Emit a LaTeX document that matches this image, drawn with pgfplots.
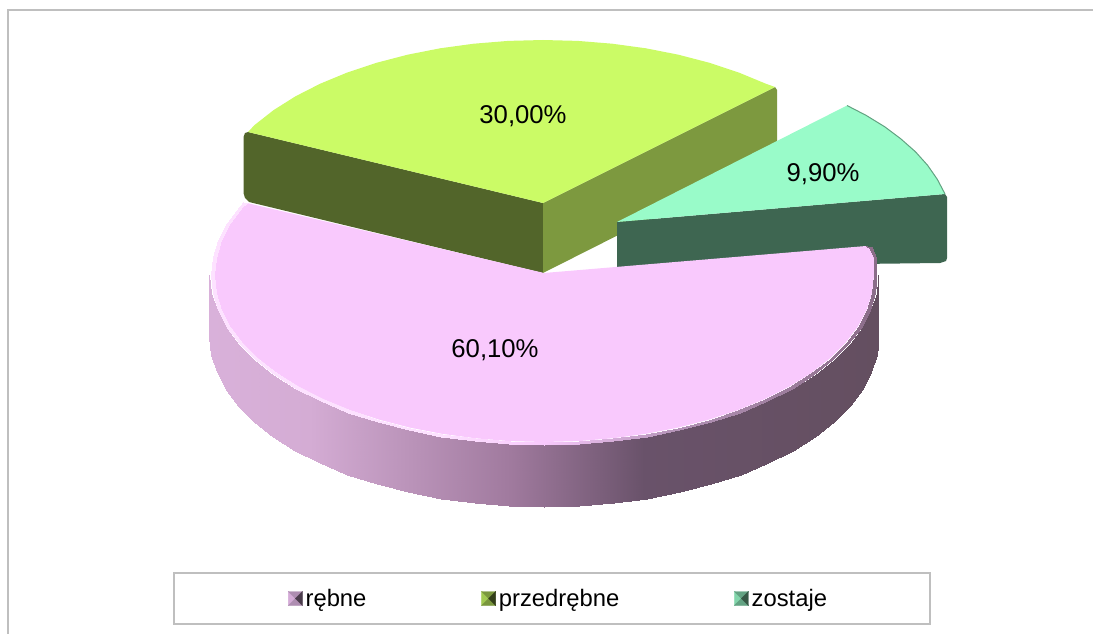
\documentclass[border=0pt]{standalone}
\usepackage{pgfplots}
\pgfplotsset{compat=1.18}
\usepackage{fontspec}
\setmainfont{Liberation Sans}
\definecolor{pkTop}{HTML}{F9C9FD}
\definecolor{grTop}{HTML}{CBFB66}
\definecolor{grDark}{HTML}{52652A}
\definecolor{grMid}{HTML}{7D993F}
\definecolor{tlTop}{HTML}{99FBC9}
\definecolor{tlWall}{HTML}{3E6651}
\definecolor{frameC}{HTML}{BFBFBF}
\pgfplotsset{
 colormap={pkside}{rgb255(0pt)=(217,177,218); rgb255(15pt)=(212,172,212); rgb255(45pt)=(160,122,158); rgb255(65pt)=(105,82,106); rgb255(100pt)=(100,79,96)},
 colormap={pkrim}{rgb255(0pt)=(253,226,255); rgb255(34pt)=(253,226,255); rgb255(50pt)=(249,201,253); rgb255(70pt)=(179,146,182); rgb255(100pt)=(138,108,136)},
}
\newcommand\legimg[4]{%
 \fill[#1] (0pt,-7pt)--(7pt,0pt)--(0pt,7pt)--cycle;
 \fill[#2] (0pt,7pt)--(7pt,0pt)--(14pt,7pt)--cycle;
 \fill[#3] (0pt,-7pt)--(7pt,0pt)--(14pt,-7pt)--cycle;
 \fill[#4] (14pt,-7pt)--(7pt,0pt)--(14pt,7pt)--cycle;}
\begin{document}
\begin{tikzpicture}
\begin{axis}[
  scale only axis, width=1093pt, height=634pt,
  xmin=0, xmax=1093, ymin=0, ymax=634, y dir=reverse,
  hide axis, no markers, clip=true,
  point meta min=209.5, point meta max=878.5,
  legend columns=3,
  legend cell align=left,
  legend style={
    at={(axis cs:288,598.5)}, anchor=west,
    draw=none, fill=none,
    inner xsep=0pt, inner ysep=0pt,
    font=\fontsize{23.8}{28}\selectfont,
    /tikz/every even column/.append style={column sep=113pt},
    /tikz/every odd column/.append style={column sep=1pt},
  },
]
% extent of the picture
\addplot[draw=none, forget plot] coordinates {(0,0) (1093,634)};
% outer frame
\addplot[frameC, line width=1.2pt, forget plot] coordinates {(8,634) (8,10) (1093,10)};
% legend frame
\addplot[frameC, line width=1.2pt, forget plot] coordinates {(174,573) (930,573) (930,624) (174,624)} -- cycle;

% --- green slice ---
\addplot[fill=grDark, draw=none, forget plot] coordinates {
 (248,132) (245,133) (243.5,137) (243.5,193) (245,198) (249,202) (543,273) (543,203)} -- cycle;
\addplot[fill=grMid, draw=none, forget plot] coordinates {
 (543,203) (775,87) (777,90) (777,155) (543,273)} -- cycle;
\addplot[fill=grTop, draw=none, forget plot] coordinates {
 (543,203) (775,87) (765.8,83.7) (738.7,72.5) (709.5,62.8) (678.4,54.7) (645.9,48.3)
 (612.2,43.7) (577.8,40.9) (543,40) (508.2,40.9) (473.8,43.7) (440.1,48.3) (407.6,54.7)
 (376.5,62.8) (347.3,72.5) (320.2,83.7) (295.5,96.3) (273.6,110.1) (254.6,125) (248,132)} -- cycle;

% --- teal slice ---
\addplot[fill=tlWall, draw=none, forget plot] coordinates {
 (617,222) (945,194) (947,197) (947,258) (946,261) (940,263) (617,267)} -- cycle;
\addplot[fill=tlTop, draw=none, forget plot] coordinates {
 (617,222) (847,105.5) (866,115.3) (884.6,126.7) (901,139) (915.5,151.8) (927.6,165.3)
 (937.3,179.3) (945,194)} -- cycle;
\addplot[color=tlWall!60!tlTop, line width=1pt, forget plot] coordinates {
 (847,105.5) (866,115.3) (884.6,126.7) (901,139) (915.5,151.8) (927.6,165.3)
 (937.3,179.3) (945,194)};

% --- pink slice: side, two rows of points ---
\addplot[surf, shader=interp, colormap name=pkside, point meta=x, mesh/rows=2, forget plot] coordinates {
 (878.5,268) (876.7,292.8) (871.2,310.3) (862.1,327.5) (849.6,344.1) (833.7,360)
 (814.6,374.9) (792.6,388.7) (767.8,401.3) (740.6,412.5) (711.3,422.2) (680,430.3)
 (647.4,436.7) (613.5,441.3) (579,444.1) (544,445) (509,444.1) (474.5,441.3) (440.6,436.7)
 (408,430.3) (376.7,422.2) (347.4,412.5) (320.2,401.3) (295.4,388.7) (273.4,374.9)
 (254.3,360) (238.4,344.1) (225.9,327.5) (216.8,310.3) (211.3,292.8) (209.5,275)

 (878.5,337) (876.7,354.8) (871.2,372.3) (862.1,389.5) (849.6,406.1) (833.7,422)
 (814.6,436.9) (792.6,450.7) (767.8,463.3) (740.6,474.5) (711.3,484.2) (680,492.3)
 (647.4,498.7) (613.5,503.3) (579,506.1) (544,507) (509,506.1) (474.5,503.3) (440.6,498.7)
 (408,492.3) (376.7,484.2) (347.4,474.5) (320.2,463.3) (295.4,450.7) (273.4,436.9)
 (254.3,422) (238.4,406.1) (225.9,389.5) (216.8,372.3) (211.3,354.8) (209.5,337)};
% pink slice: top (filled below the rim)
\addplot[fill=pkTop, draw=none, forget plot] coordinates {
 (544,273) (866,246) (870,249) (874,258) (874,275) (872.2,292.5) (866.8,309.7) (857.9,326.6)
 (845.5,342.9) (829.8,358.5) (811,373.2) (789.2,386.7) (764.8,399.1) (738,410.1) (709,419.6)
 (678.2,427.6) (646,433.8) (612.6,438.3) (578.5,441.1) (544,442) (509.5,441.1) (475.4,438.3)
 (442,433.8) (409.8,427.6) (379,419.6) (350,410.1) (323.2,399.1) (298.8,386.7) (277,373.2)
 (258.2,358.5) (242.5,342.9) (230.1,326.6) (221.2,309.7) (215.8,292.5) (214,275)
 (215.8,257.5) (221.2,240.3) (230.1,223.4) (242.5,207.1) (247,203)} -- cycle;
% pink slice: bevelled rim, two rows of points
\addplot[surf, shader=interp, colormap name=pkrim, point meta=x, mesh/rows=2, forget plot] coordinates {
 (867,246) (872,247) (876,258) (877,275) (875.2,292.8) (869.7,310.3) (860.7,327.5)
 (848.2,344.1) (832.4,360) (813.4,374.9) (791.5,388.7) (766.8,401.3) (739.7,412.5)
 (710.5,422.2) (679.4,430.3) (646.9,436.7) (613.2,441.3) (578.8,444.1) (544,445)
 (509.2,444.1) (474.8,441.3) (441.1,436.7) (408.6,430.3) (377.5,422.2) (348.3,412.5)
 (321.2,401.3) (296.5,388.7) (274.6,374.9) (255.6,360) (239.8,344.1) (227.3,327.5)
 (218.3,310.3) (212.8,292.8) (211,275) (212.8,257.2) (218.3,239.7) (227.3,222.5)
 (239.8,205.9) (243,202)

 (866,246) (870,249) (874,258) (874,275) (872.2,292.5) (866.8,309.7) (857.9,326.6)
 (845.5,342.9) (829.8,358.5) (811,373.2) (789.2,386.7) (764.8,399.1) (738,410.1)
 (709,419.6) (678.2,427.6) (646,433.8) (612.6,438.3) (578.5,441.1) (544,442)
 (509.5,441.1) (475.4,438.3) (442,433.8) (409.8,427.6) (379,419.6) (350,410.1)
 (323.2,399.1) (298.8,386.7) (277,373.2) (258.2,358.5) (242.5,342.9) (230.1,326.6)
 (221.2,309.7) (215.8,292.5) (214,275) (215.8,257.5) (221.2,240.3) (230.1,223.4)
 (242.5,207.1) (247,203)};

% data labels
\node[font=\fontsize{25.7}{30}\selectfont] at (axis cs:523,116) {30,00\%};
\node[font=\fontsize{25.7}{30}\selectfont] at (axis cs:823,174) {9,90\%};
\node[font=\fontsize{25.7}{30}\selectfont] at (axis cs:495,350) {60,10\%};

% legend
\addlegendimage{legend image code/.code={\legimg{pkTop!85!black}{pkTop!70!black}{pkTop!70!black}{pkTop!30!black}}}
\addlegendentry{rębne}
\addlegendimage{legend image code/.code={\legimg{grTop!80!black}{grTop!60!black}{grTop!60!black}{grTop!25!black}}}
\addlegendentry{przedrębne}
\addlegendimage{legend image code/.code={\legimg{tlTop!85!black}{tlTop!65!black}{tlTop!65!black}{tlTop!35!black}}}
\addlegendentry{zostaje}
\end{axis}
\end{tikzpicture}
\end{document}
